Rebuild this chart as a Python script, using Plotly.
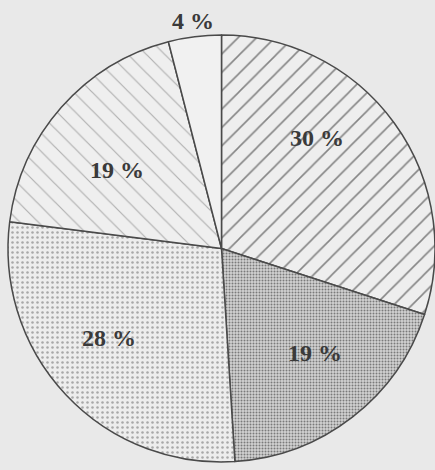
import plotly.graph_objects as go

categories = ["A", "B", "C", "D", "E"]
values = [30, 19, 28, 19, 4]
labels_text = ["30 %", "19 %", "28 %", "19 %", "4 %"]

# label centres in page pixels (text placement only)
label_px = [(317, 138), (315, 353), (109, 338), (117, 170), (193, 21)]

shapes = ["/", ".", ".", "\\", ""]
fg = ["#858585", "#7a7a7a", "#a8a8a8", "#b0b0b0", "#f0f0f0"]
bg = ["#eeeeee", "#d2d2d2", "#ededed", "#efefef", "#f1f1f1"]
psize = [13, 3, 5, 13, 8]
psolid = [0.12, 0.35, 0.2, 0.09, 0.1]

W, H = 435, 470
ML, MR, MT, MB = 8, 0, 35, 8

fig = go.Figure(go.Pie(
    labels=categories,
    values=values,
    textinfo="none",
    sort=False,
    direction="clockwise",
    rotation=0,
    showlegend=False,
    hoverinfo="skip",
    marker=dict(
        colors=bg,
        line=dict(color="#4a4a4a", width=1.5),
        pattern=dict(shape=shapes, fgcolor=fg, bgcolor=bg, size=psize, solidity=psolid, fillmode="replace"),
    ),
))

pw, ph = W - ML - MR, H - MT - MB
for txt, (px, py) in zip(labels_text, label_px):
    fig.add_annotation(
        x=(px - ML) / pw, y=1 - (py - MT) / ph, xref="paper", yref="paper",
        text=txt, showarrow=False, xanchor="center", yanchor="middle",
        font=dict(family="Liberation Serif", size=24, color="#3a3a3a", weight="bold"),
    )

fig.update_layout(
    width=W, height=H,
    margin=dict(l=ML, r=MR, t=MT, b=MB),
    paper_bgcolor="#e9e9e9",
    plot_bgcolor="#e9e9e9",
)

fig.write_html(
    "out.html",
    config={"displayModeBar": False},
    post_script="document.body.style.margin='0';document.body.style.background='#e9e9e9';",
)
